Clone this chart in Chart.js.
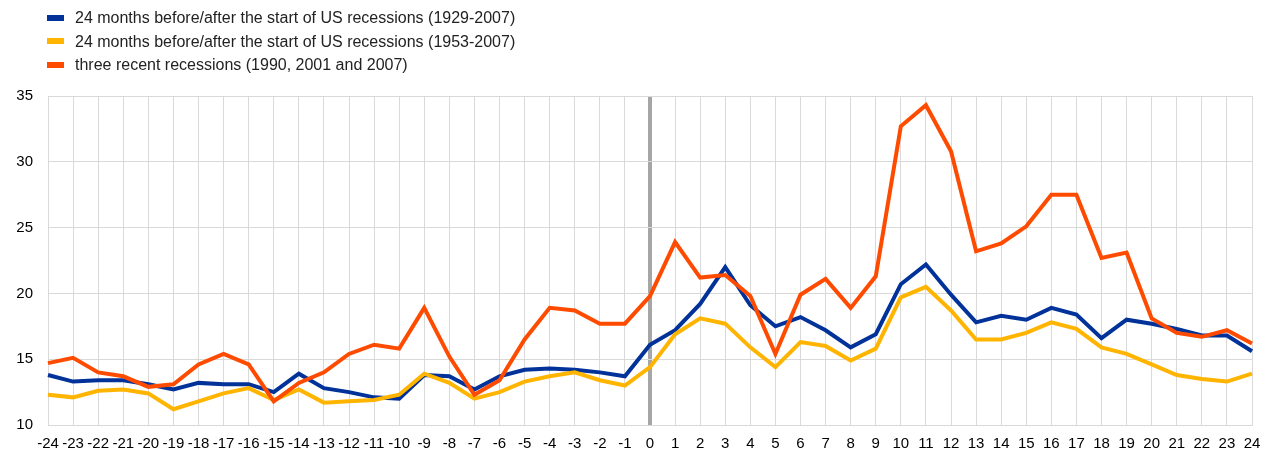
<!DOCTYPE html>
<html>
<head>
<meta charset="utf-8">
<script src="https://cdn.jsdelivr.net/npm/chart.js@4.4.1/dist/chart.umd.min.js"></script>
<style>
  body { margin: 0; background: #fff; font-family: "Liberation Sans", Arial, sans-serif; overflow: hidden; }
  #wrap { position: relative; width: 1261px; height: 450px; overflow: hidden; }
  #legend { position: absolute; left: 47px; top: 7px; font-size: 16px; color: #222; }
  #legend div { height: 23.5px; line-height: 22px; white-space: nowrap; }
  #legend span { display: inline-block; width: 17px; height: 6px; margin-right: 11px; vertical-align: middle; position: relative; top: -1px; }
</style>
</head>
<body>
<div id="wrap">
  <canvas id="myChart" width="1261" height="450"></canvas>
  <div id="legend"></div>
</div>
<script>
// meses antes/despues del inicio de la recesion
const meses = [];
for (let m = -24; m <= 24; m++) meses.push(String(m));

const nombres = [
    "24 months before/after the start of US recessions (1929-2007)",
    "24 months before/after the start of US recessions (1953-2007)",
    "three recent recessions (1990, 2001 and 2007)"
];
const colores = ["#003299", "#ffb400", "#ff4b00"];

const serie1929 = [
    13.8, 13.3, 13.4, 13.4, 13.1, 12.7, 13.2, 13.1, 13.1, 12.5, 13.9, 12.8, 12.5,
    12.1, 12.0, 13.8, 13.7, 12.7, 13.7, 14.2, 14.3, 14.2, 14.0, 13.7,
    16.1,
    17.2, 19.2, 22.0, 19.1, 17.5, 18.2, 17.2, 15.9, 16.9, 20.7, 22.2, 19.9,
    17.8, 18.3, 18.0, 18.9, 18.4, 16.6, 18.0, 17.7, 17.3, 16.8, 16.8, 15.6
];
const serie1953 = [
    12.3, 12.1, 12.6, 12.7, 12.4, 11.2, 11.8, 12.4, 12.8, 11.9, 12.7, 11.7, 11.8,
    11.9, 12.3, 13.9, 13.2, 12.0, 12.5, 13.3, 13.7, 14.0, 13.4, 13.0,
    14.4,
    16.9, 18.1, 17.7, 15.9, 14.4, 16.3, 16.0, 14.9, 15.8, 19.7, 20.5, 18.7,
    16.5, 16.5, 17.0, 17.8, 17.3, 15.9, 15.4, 14.6, 13.8, 13.5, 13.3, 13.9
];
const serieRecientes = [
    14.7, 15.1, 14.0, 13.7, 12.9, 13.1, 14.6, 15.4, 14.6, 11.8, 13.2, 14.0, 15.4,
    16.1, 15.8, 18.9, 15.2, 12.3, 13.4, 16.5, 18.9, 18.7, 17.7, 17.7,
    19.8,
    23.9, 21.2, 21.4, 19.8, 15.4, 19.9, 21.1, 18.9, 21.3, 32.7, 34.3, 30.8,
    23.2, 23.8, 25.1, 27.5, 27.5, 22.7, 23.1, 18.1, 17.0, 16.7, 17.2, 16.2
];
const ticksY = [10, 15, 20, 25, 30, 35];

// leyenda en html (vertical)
const legendDiv = document.getElementById('legend');
nombres.forEach((n, i) => {
    legendDiv.innerHTML += `<div><span style="background:${colores[i]}"></span>${n}</div>`;
});

const fuente = { family: "'Liberation Sans', Arial, sans-serif", size: 15 };

const config = {
    type: 'line',
    data: {
        labels: meses,
        datasets: [
            { label: nombres[0], data: serie1929, borderColor: colores[0], order: 3 },
            { label: nombres[1], data: serie1953, borderColor: colores[1], order: 2 },
            { label: nombres[2], data: serieRecientes, borderColor: colores[2], order: 1 }
        ]
    },
    options: {
        responsive: false,
        animation: false,
        layout: { padding: { top: 96, right: 0, left: 0, bottom: -13 } },
        elements: {
            line: { borderWidth: 4, tension: 0, borderJoinStyle: 'miter', borderCapStyle: 'butt' },
            point: { radius: 0 }
        },
        plugins: { legend: { display: false }, tooltip: { enabled: false } },
        scales: {
            x: {
                offset: false,
                afterFit: (scale) => { scale.paddingRight = 9; },
                grid: {
                    color: (ctx) => ctx.index === 24 ? '#a6a6a6' : '#d9d9d9',
                    lineWidth: (ctx) => ctx.index === 24 ? 4 : 1,
                    drawTicks: false
                },
                border: { color: '#d9d9d9' },
                ticks: { autoSkip: false, maxRotation: 0, color: '#000', font: fuente, padding: 10 }
            },
            y: {
                min: 10,
                max: 35,
                afterBuildTicks: (scale) => { scale.ticks = ticksY.map(v => ({ value: v })); },
                afterFit: (scale) => { scale.width = 48; },
                grid: { color: '#d9d9d9', drawTicks: false },
                border: { display: false },
                ticks: { color: '#000', font: fuente, padding: 15 }
            }
        }
    }
};

new Chart(document.getElementById('myChart'), config);
</script>
</body>
</html>
